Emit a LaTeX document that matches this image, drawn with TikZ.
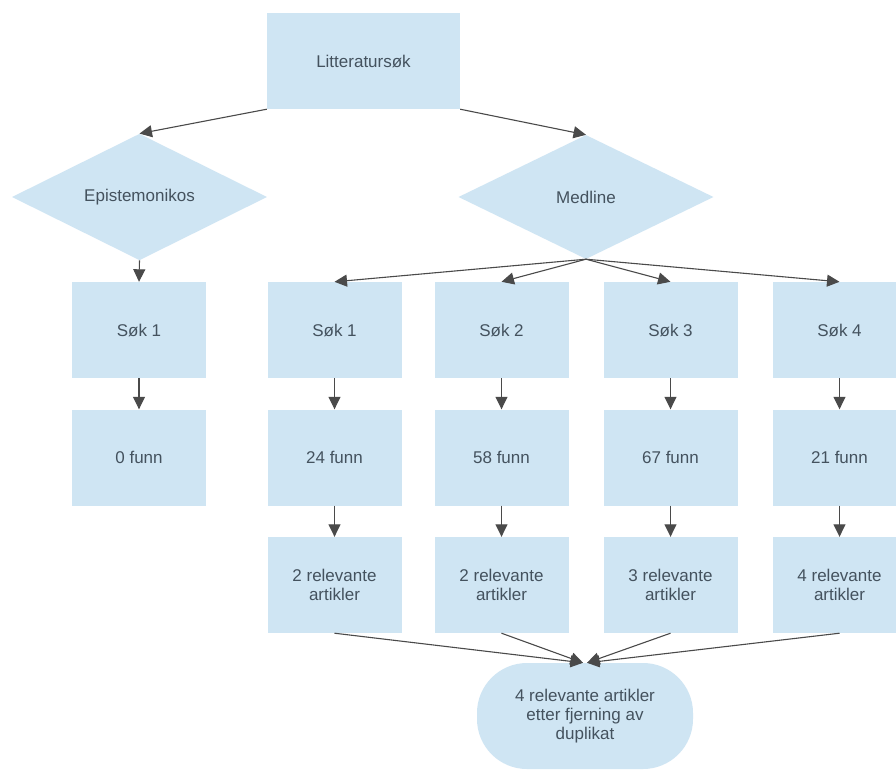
\documentclass[tikz,border=0pt]{standalone}
\usepackage{fontspec}
\setmainfont{Liberation Sans}
\usetikzlibrary{arrows.meta,positioning,shapes.geometric}
\definecolor{boxblue}{HTML}{CFE5F3}
\definecolor{labelgrey}{HTML}{44525E}
\definecolor{arrowgrey}{HTML}{4A4A4A}

\begin{document}
\begin{tikzpicture}[x=1pt,y=-1pt,
    font=\fontsize{17}{19}\selectfont,
    box/.style={fill=boxblue,text=labelgrey,minimum width=134pt,minimum height=96pt,inner sep=0pt,align=center},
    base/.style={diamond,fill=boxblue,text=labelgrey,minimum width=255pt,minimum height=124pt,inner sep=0pt},
    pill/.style={fill=boxblue,text=labelgrey,rounded corners=50pt,minimum width=216pt,minimum height=106pt,inner sep=0pt,align=center},
    link/.style={draw=arrowgrey,line width=1.1pt,-{Triangle[length=12.5pt,width=12pt]}}]
  \useasboundingbox (0,0) rectangle (896,769);
  \clip (0,0) rectangle (896,769);
  \fill[white] (0,0) rectangle (896,769);
  \node[box,minimum width=193pt] (sok) at (363.5,61) {Litteratursøk};
  \node[base] (epi) at (139.5,197) {Epistemonikos};
  \node[base] (med) at (586,197) {Medline};
  % Epistemonikos
  \node[box] (e1) at (139,330) {Søk 1};
  \node[box] (e1f) at (139,457.5) {0 funn};
  % Medline, one column per search
  \foreach \i/\x/\n/\r in {1/334.5/24/2, 2/501.5/58/2, 3/670.5/67/3, 4/839.5/21/4} {
    \node[box] (m\i) at (\x,330) {Søk \i};
    \node[box] (f\i) at (\x,457.5) {\n\ funn};
    \node[box] (r\i) at (\x,585) {\r\ relevante\\artikler};
  }
  \node[pill] (res) at (585,716) {4 relevante artikler\\etter fjerning av\\duplikat};
  % connectors
  \draw[link] (sok.south west) -- (epi.north);
  \draw[link] (sok.south east) -- (med.north);
  \draw[link] (epi.south) -- (e1.north);
  \draw[link] (e1) -- (e1f);
  \foreach \i in {1,...,4} {
    \draw[link] (med.south) -- (m\i.north);
    \draw[link] (m\i) -- (f\i);
    \draw[link] (f\i) -- (r\i);
  }
  \foreach \i in {1,2} { \draw[link] (r\i.south) -- ([xshift=-2pt]res.north); }
  \foreach \i in {3,4} { \draw[link] (r\i.south) -- ([xshift=2pt]res.north); }
\end{tikzpicture}
\end{document}
